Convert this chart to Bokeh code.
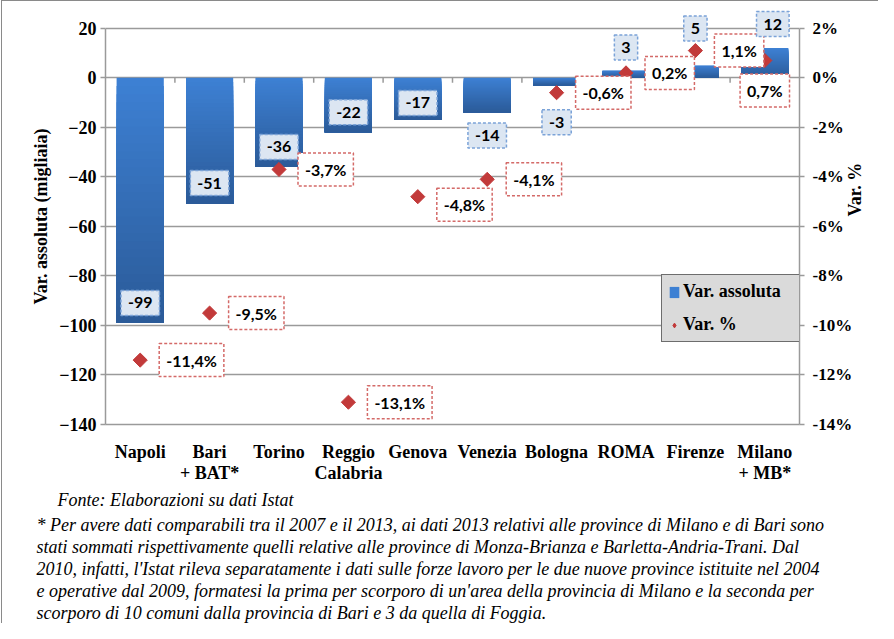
import math
from bokeh.plotting import figure
from bokeh.models import (Range1d, LinearAxis, FixedTicker, Label, Title,
                          Legend, LegendItem, PrintfTickFormatter)
from bokeh.embed import file_html
from bokeh.resources import INLINE

# ---------------- data ----------------
categories = ["Napoli", "Bari\n+ BAT*", "Torino", "Reggio\nCalabria", "Genova",
              "Venezia", "Bologna", "ROMA", "Firenze", "Milano\n+ MB*"]
var_assoluta = [-99, -51, -36, -22, -17, -14, -3, 3, 5, 12]          # migliaia
var_percent = [-11.4, -9.5, -3.7, -13.1, -4.8, -4.1, -0.6, 0.2, 1.1, 0.7]  # %
left_ticks = [20, 0, -20, -40, -60, -80, -100, -120, -140]
right_ticks = [2, 0, -2, -4, -6, -8, -10, -12, -14]

fonte = "Fonte: Elaborazioni su dati Istat"
note_lines = [
    "* Per avere dati comparabili tra il 2007 e il 2013, ai dati 2013 relativi  alle province di Milano e di Bari sono",
    "stati sommati rispettivamente  quelli  relative alle province di Monza-Brianza e Barletta-Andria-Trani. Dal",
    "2010, infatti,  l'Istat rileva separatamente i dati sulle forze lavoro per le due nuove province istituite  nel 2004",
    "e operative  dal 2009, formatesi la prima per scorporo di un'area della provincia di Milano e la seconda per",
    "scorporo di 10 comuni dalla provincia di Bari e 3 da quella di Foggia.",
]

# label placement (screen px offsets, styling only; positive = upwards)
bar_label_dy = [20, 21, 20, 20, 17, -23, -37, 23, 37, 24]
bar_label_dx = [0, 0, 0, 0, 0, 0, 0, 0, 0, 8]
pct_label_dx = [19, 19, 19, 19, 19, 19, 19, 19, 19, 0]
pct_label_dy = [0, 0, 0, 0, -8, 0, 0, 0, 0, -30]
pct_label_align = ["left"] * 9 + ["center"]

# ---------------- style / layout ----------------
GRID = "#9a9a9a"
SERIF = "Liberation Serif"
LABF = "Lato"
BLUE_TOP = (0x3d, 0x80, 0xd3)
BLUE_BOT = (0x2b, 0x5b, 0x99)
RED = "#c23a3a"
FRAME_BORDER = "#8a8a8a"

W, H = 878, 623
BL, BR, BT, BB = 105, 76, 8, 197
Y_TOP = 28  # headroom above the top tick so the data labels are not clipped

n = len(categories)
xs = list(range(n))
y_lo, y_hi = left_ticks[-1], left_ticks[0]
pct_top = right_ticks[0] + (Y_TOP - y_hi) * (right_ticks[0] - right_ticks[-1]) / (y_hi - y_lo)

p = figure(width=W, height=H, x_range=Range1d(-0.5, n - 0.5),
           y_range=Range1d(y_lo, Y_TOP),
           toolbar_location=None, output_backend="svg",
           min_border_left=BL, min_border_right=BR, min_border_top=BT, min_border_bottom=BB)
p.outline_line_color = None
p.background_fill_color = "white"
p.border_fill_alpha = 0
p.styles = {
    "background": (
        f"linear-gradient({FRAME_BORDER}, {FRAME_BORDER}) 1px 0px / 1px 100% no-repeat, "
        f"linear-gradient({FRAME_BORDER}, {FRAME_BORDER}) 1px 0px / 100% 1px no-repeat, white"
    )
}
p.extra_y_ranges = {"pct": Range1d(right_ticks[-1], pct_top)}

# --- bars with a vertical gradient (stacked overlapping slices, no seams) ---
NS = 30
left, right, top, bottom, colors = [], [], [], [], []
bw = 0.68
for i, v in enumerate(var_assoluta):
    hi, lo = max(v, 0), min(v, 0)
    h = hi - lo
    for k in range(NS):
        fr = k / (NS - 1)
        c = tuple(int(round(BLUE_TOP[j] + (BLUE_BOT[j] - BLUE_TOP[j]) * fr)) for j in range(3))
        left.append(xs[i] - bw / 2)
        right.append(xs[i] + bw / 2)
        top.append(hi - h * k / NS)
        bottom.append(lo)
        colors.append("#%02x%02x%02x" % c)
bars = p.quad(left=left, right=right, top=top, bottom=bottom, fill_color=colors, line_color=None)

# zero line tick marks between categories
p.segment(x0=[x + 0.5 for x in xs[:-1]], x1=[x + 0.5 for x in xs[:-1]],
          y0=[0] * (n - 1), y1=[-2] * (n - 1), line_color=GRID, line_width=1.5)

# --- percentage markers (rotated squares = diamonds) ---
pts = p.scatter(x=xs, y=var_percent, y_range_name="pct", marker="square", angle=math.pi / 4,
                size=10, fill_color=RED, line_color=RED, line_width=1)
# legend-only glyph (NaN point, never drawn in the plot)
leg_pts = p.scatter(x=[math.nan], y=[math.nan], marker="diamond", size=16,
                    fill_color=RED, line_color=RED)

# --- grid ---
p.xgrid.grid_line_color = None
p.ygrid.ticker = FixedTicker(ticks=left_ticks)
p.ygrid.grid_line_color = GRID
p.ygrid.grid_line_width = 1.5

# --- axes ---
def style_axis(ax, size="18px"):
    ax.axis_line_color = GRID
    ax.axis_line_width = 1.5
    ax.major_tick_line_color = GRID
    ax.major_tick_line_width = 1.5
    ax.minor_tick_line_color = None
    ax.major_tick_in = 0
    ax.major_label_text_font = SERIF
    ax.major_label_text_font_style = "bold"
    ax.major_label_text_font_size = size
    ax.major_label_text_color = "black"
    ax.axis_label_text_font = SERIF
    ax.axis_label_text_font_style = "bold"
    ax.axis_label_text_font_size = "18px"
    ax.axis_label_text_color = "black"

xa = p.xaxis[0]
xa.ticker = FixedTicker(ticks=xs)
xa.major_label_overrides = {i: c for i, c in enumerate(categories)}
style_axis(xa, "18px")
xa.major_label_text_line_height = 1.05
xa.major_tick_line_color = None
xa.major_tick_out = 0
xa.major_label_standoff = 17

ya = p.yaxis[0]
ya.ticker = FixedTicker(ticks=left_ticks)
ya.bounds = (y_lo, y_hi)
style_axis(ya)
ya.major_tick_out = 5
ya.major_label_standoff = 4
ya.axis_label = "Var. assoluta (migliaia)"
ya.axis_label_standoff = 5

ra = LinearAxis(y_range_name="pct", ticker=FixedTicker(ticks=right_ticks),
                formatter=PrintfTickFormatter(format="%d%%"))
ra.bounds = (right_ticks[-1], right_ticks[0])
style_axis(ra, "17px")
ra.major_tick_out = 5
ra.major_label_standoff = 8
ra.axis_label = "Var. %"
ra.axis_label_standoff = 0
try:
    ra.axis_label_orientation = math.pi / 2
except Exception:
    pass
p.add_layout(ra, "right")

# --- data labels ---
for i in range(n):
    p.add_layout(Label(x=xs[i], y=var_assoluta[i], text=str(var_assoluta[i]),
                       x_offset=bar_label_dx[i], y_offset=bar_label_dy[i],
                       text_align="center", text_baseline="middle",
                       text_font=LABF, text_font_style="bold", text_font_size="16px",
                       text_color="black", background_fill_color="#dce6f2", background_fill_alpha=1,
                       border_line_color="#7ba3d8", border_line_dash="3 2", border_line_width=1.5,
                       padding=7))
    p.add_layout(Label(x=xs[i], y=var_percent[i], y_range_name="pct",
                       text=("%.1f" % var_percent[i]).replace(".", ",") + "%",
                       x_offset=pct_label_dx[i], y_offset=pct_label_dy[i],
                       text_align=pct_label_align[i], text_baseline="middle",
                       text_font=LABF, text_font_style="bold", text_font_size="16px",
                       text_color="black", background_fill_color="white", background_fill_alpha=1,
                       border_line_color="#d46a68", border_line_dash="3 2", border_line_width=1.5,
                       padding=7))

# --- legend ---
legend = Legend(items=[LegendItem(label="Var. assoluta", renderers=[bars], index=0),
                       LegendItem(label="Var. %", renderers=[leg_pts])],
                location=(556, 82))
legend.label_text_font = SERIF
legend.label_text_font_style = "bold"
legend.label_text_font_size = "18px"
legend.label_text_color = "black"
legend.background_fill_color = "#dadada"
legend.background_fill_alpha = 1
legend.border_line_color = "black"
legend.border_line_width = 1.5
legend.glyph_width = 12
legend.glyph_height = 14
legend.label_height = 20
legend.label_width = 110
legend.spacing = 12
legend.padding = 6
legend.margin = 0
legend.label_standoff = 3
p.add_layout(legend)

# ---------------- footnote (titles stacked below the category axis) ----------------
def note(text, offset, standoff):
    t = Title(text=text, align="left", offset=offset, standoff=standoff,
              text_font=SERIF, text_font_style="italic", text_font_size="18px",
              text_color="black", vertical_align="middle")
    p.add_layout(t, "below")

note(fonte, -48, 6)
for line in note_lines:
    note(line, -69, 0)

open("out.html", "w").write(file_html(p, INLINE))
